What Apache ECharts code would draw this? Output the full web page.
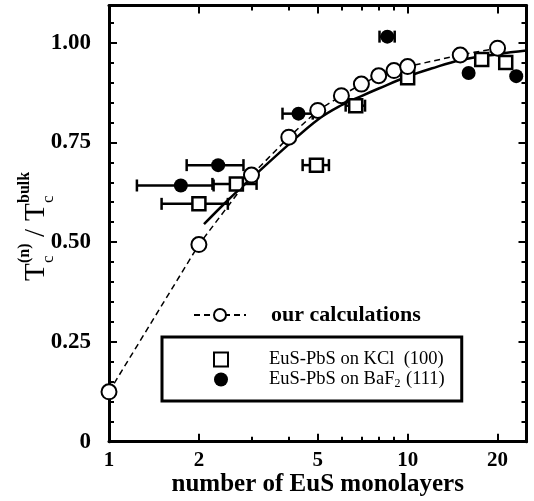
<!DOCTYPE html>
<html>
<head>
<meta charset="utf-8">
<script src="https://cdn.jsdelivr.net/npm/echarts@6/dist/echarts.min.js"></script>
<style>
html,body{margin:0;padding:0;background:#fff;}
#chart{width:534px;height:501px;}
</style>
</head>
<body>
<div id="chart"></div>
<script>
// ---- data ----
const calcN  = [1, 2, 3, 4, 5, 6, 7, 8, 9, 10, 15, 20];
const calcTc = [0.125, 0.494, 0.668, 0.763, 0.830, 0.867, 0.896, 0.917, 0.930, 0.940, 0.969, 0.986];

const fitN  = [2.08, 2.5, 3, 4, 5, 6, 7, 8, 10, 12, 15, 20, 25];
const fitTc = [0.545, 0.605, 0.660, 0.745, 0.807, 0.843, 0.866, 0.885, 0.915, 0.935, 0.956, 0.971, 0.980];

const kclN   = [2.0, 2.67, 4.95, 6.7, 10, 17.7, 21.3];
const kclTc  = [0.596, 0.646, 0.693, 0.842, 0.912, 0.958, 0.950];
const kclErr = [0.5, 0.45, 0.5, 0.5, null, null, null];

const bafN   = [1.74, 2.32, 4.31, 8.55, 16.0, 23.1];
const bafTc  = [0.642, 0.693, 0.822, 1.015, 0.924, 0.916];
const bafErr = [0.5, 0.5, 0.5, 0.5, null, null];

const xTickLabels = [1, 2, 5, 10, 20];
const xMinorTicks = [3, 4, 6, 7, 8, 9];
const yTickLabels = [0, 0.25, 0.5, 0.75, 1.0];
const yMinorTicks = [0.05, 0.1, 0.15, 0.2, 0.3, 0.35, 0.4, 0.45, 0.55, 0.6, 0.65, 0.7, 0.8, 0.85, 0.9, 0.95, 1.05];

const NAME_CALC = 'our calculations';
const NAME_KCL  = 'EuS-PbS on KCl  (100)';
const NAME_BAF  = 'EuS-PbS on BaF2 (111)';

// ---- chart ----
const FONT = '"Liberation Serif", "Times New Roman", Times, serif';
const chart = echarts.init(document.getElementById('chart'), null, {renderer: 'canvas'});

const GRID = {left: 109, right: 7.5, top: 5.5, bottom: 59.3, containLabel: false, outerBoundsMode: 'none'};
const XMIN = 1, XMAX = 25, YMIN = 0, YMAX = 1.093;

function xAxisDef(grid, pos, ticks, len, showLine, labels) {
  return {
    type: 'log', logBase: 10, min: XMIN, max: XMAX, gridIndex: grid, position: pos,
    splitLine: {show: false},
    axisLine: {show: showLine, onZero: false, lineStyle: {color: '#000', width: 3}},
    axisTick: {show: true, inside: true, length: len, customValues: ticks, lineStyle: {color: '#000', width: 2}},
    axisLabel: labels ? {
      show: true, customValues: labels, margin: 8, color: '#000',
      fontFamily: FONT, fontWeight: 'bold', fontSize: 21
    } : {show: false}
  };
}
function yAxisDef(grid, pos, ticks, len, showLine, labels) {
  return {
    type: 'value', min: YMIN, max: YMAX, gridIndex: grid, position: pos,
    splitLine: {show: false},
    axisLine: {show: showLine, onZero: false, lineStyle: {color: '#000', width: 3}},
    axisTick: {show: true, inside: true, length: len, customValues: ticks, lineStyle: {color: '#000', width: 2}},
    axisLabel: labels ? {
      show: true, customValues: labels, margin: 18, color: '#000',
      fontFamily: FONT, fontWeight: 'bold', fontSize: 23,
      formatter: v => (v === 0 ? '0' : v.toFixed(2))
    } : {show: false}
  };
}

const xAxes = [
  Object.assign(xAxisDef(0, 'bottom', xTickLabels, 8, true, xTickLabels), {
    name: 'number of EuS monolayers', nameLocation: 'middle', nameGap: 30, nameMoveOverlap: false,
    nameTextStyle: {fontFamily: FONT, fontWeight: 'bold', fontSize: 25, color: '#000', verticalAlign: 'top'}
  }),
  xAxisDef(0, 'top', xTickLabels, 8, true, null),
  xAxisDef(1, 'bottom', xMinorTicks, 5, false, null),
  xAxisDef(1, 'top', xMinorTicks, 5, false, null)
];
const yAxes = [
  yAxisDef(0, 'left', yTickLabels, 8, true, yTickLabels),
  yAxisDef(0, 'right', yTickLabels, 8, true, null),
  yAxisDef(1, 'left', yMinorTicks, 5, false, null),
  yAxisDef(1, 'right', yMinorTicks, 5, false, null)
];

function zip(a, b) { return a.map((v, i) => [v, b[i]]); }
function errData(n, tc, err) {
  const out = [];
  n.forEach((v, i) => { if (err[i] != null) out.push([v, tc[i], v - err[i], v + err[i]]); });
  return out;
}
function renderErr(params, api) {
  const y = api.value(1);
  const lo = api.coord([api.value(2), y]);
  const hi = api.coord([api.value(3), y]);
  const h = 6;
  const st = {stroke: '#000', lineWidth: 2.5};
  return {type: 'group', children: [
    {type: 'line', shape: {x1: lo[0], y1: lo[1], x2: hi[0], y2: hi[1]}, style: st},
    {type: 'line', shape: {x1: lo[0], y1: lo[1] - h, x2: lo[0], y2: lo[1] + h}, style: st},
    {type: 'line', shape: {x1: hi[0], y1: hi[1] - h, x2: hi[0], y2: hi[1] + h}, style: st}
  ]};
}

const option = {
  animation: false,
  backgroundColor: '#fff',
  grid: [Object.assign({}, GRID), Object.assign({}, GRID)],
  xAxis: xAxes,
  yAxis: yAxes,
  legend: [
    {
      data: [NAME_CALC], left: 188, top: 299, orient: 'horizontal',
      itemWidth: 52, itemHeight: 15,
      textStyle: {fontFamily: FONT, fontWeight: 'bold', fontSize: 22, color: '#000', padding: [0, 0, 0, 20]}
    },
    {
      data: [NAME_KCL, NAME_BAF], left: 162, top: 337, orient: 'vertical',
      itemWidth: 14, itemHeight: 14, itemGap: 0,
      borderColor: '#000', borderWidth: 3, padding: [13, 17, 11, 51],
      formatter: function (name) {
        if (name === NAME_BAF) return '{n|EuS-PbS on BaF}{s|2}{n| (111)}';
        return '{n|' + name + '}';
      },
      textStyle: {
        fontFamily: FONT, fontSize: 18.5, color: '#000', lineHeight: 19, padding: [0, 0, 0, 36],
        rich: {
          n: {fontFamily: FONT, fontSize: 18.5, color: '#000', lineHeight: 19},
          s: {fontFamily: FONT, fontSize: 12, color: '#000', lineHeight: 19, padding: [9, 1, 0, 0]}
        }
      }
    }
  ],
  graphic: [{
    type: 'group', x: 45, y: 281, rotation: Math.PI / 2, silent: true,
    children: [
      {type: 'text', style: {text: 'T', x: 0, y: -9, font: 'normal 29px ' + FONT, fill: '#000', align: 'left', verticalAlign: 'middle'}},
      {type: 'text', style: {text: 'c', x: 18, y: 4, font: 'normal 17px ' + FONT, fill: '#000', align: 'left', verticalAlign: 'middle'}},
      {type: 'text', style: {text: '(n)', x: 18, y: -20, font: 'bold 16px ' + FONT, fill: '#000', align: 'left', verticalAlign: 'middle'}},
      {type: 'text', style: {text: '/', x: 44, y: -9, font: 'normal 29px ' + FONT, fill: '#000', align: 'left', verticalAlign: 'middle'}},
      {type: 'text', style: {text: 'T', x: 60, y: -9, font: 'normal 29px ' + FONT, fill: '#000', align: 'left', verticalAlign: 'middle'}},
      {type: 'text', style: {text: 'c', x: 78, y: 4, font: 'normal 17px ' + FONT, fill: '#000', align: 'left', verticalAlign: 'middle'}},
      {type: 'text', style: {text: 'bulk', x: 78, y: -20, font: 'bold 16px ' + FONT, fill: '#000', align: 'left', verticalAlign: 'middle'}}
    ]
  }],
  series: [
    {
      name: 'fit', type: 'line', xAxisIndex: 0, yAxisIndex: 0,
      data: zip(fitN, fitTc), smooth: 0.4, showSymbol: false, symbol: 'none',
      lineStyle: {color: '#000', width: 2.5, type: 'solid'}, z: 2, silent: true
    },
    {
      name: 'kclErr', type: 'custom', xAxisIndex: 0, yAxisIndex: 0,
      data: errData(kclN, kclTc, kclErr), renderItem: renderErr,
      encode: {x: [0, 2, 3], y: 1}, z: 3, silent: true
    },
    {
      name: 'bafErr', type: 'custom', xAxisIndex: 0, yAxisIndex: 0,
      data: errData(bafN, bafTc, bafErr), renderItem: renderErr,
      encode: {x: [0, 2, 3], y: 1}, z: 3, silent: true
    },
    {
      name: NAME_KCL, type: 'scatter', xAxisIndex: 0, yAxisIndex: 0,
      data: zip(kclN, kclTc), symbol: 'rect', symbolSize: 13,
      itemStyle: {color: '#fff', borderColor: '#000', borderWidth: 2.5, opacity: 1}, z: 4
    },
    {
      name: NAME_BAF, type: 'scatter', xAxisIndex: 0, yAxisIndex: 0,
      data: zip(bafN, bafTc), symbol: 'circle', symbolSize: 14,
      itemStyle: {color: '#000', borderColor: '#000', borderWidth: 0, opacity: 1}, z: 4
    },
    {
      name: NAME_CALC, type: 'line', xAxisIndex: 0, yAxisIndex: 0,
      data: zip(calcN, calcTc), symbol: 'circle', symbolSize: 15, showSymbol: true,
      itemStyle: {color: '#fff', borderColor: '#000', borderWidth: 2},
      lineStyle: {color: '#000', width: 1.5, type: [6, 4]}, z: 5
    }
  ]
};
chart.setOption(option);
</script>
</body>
</html>
